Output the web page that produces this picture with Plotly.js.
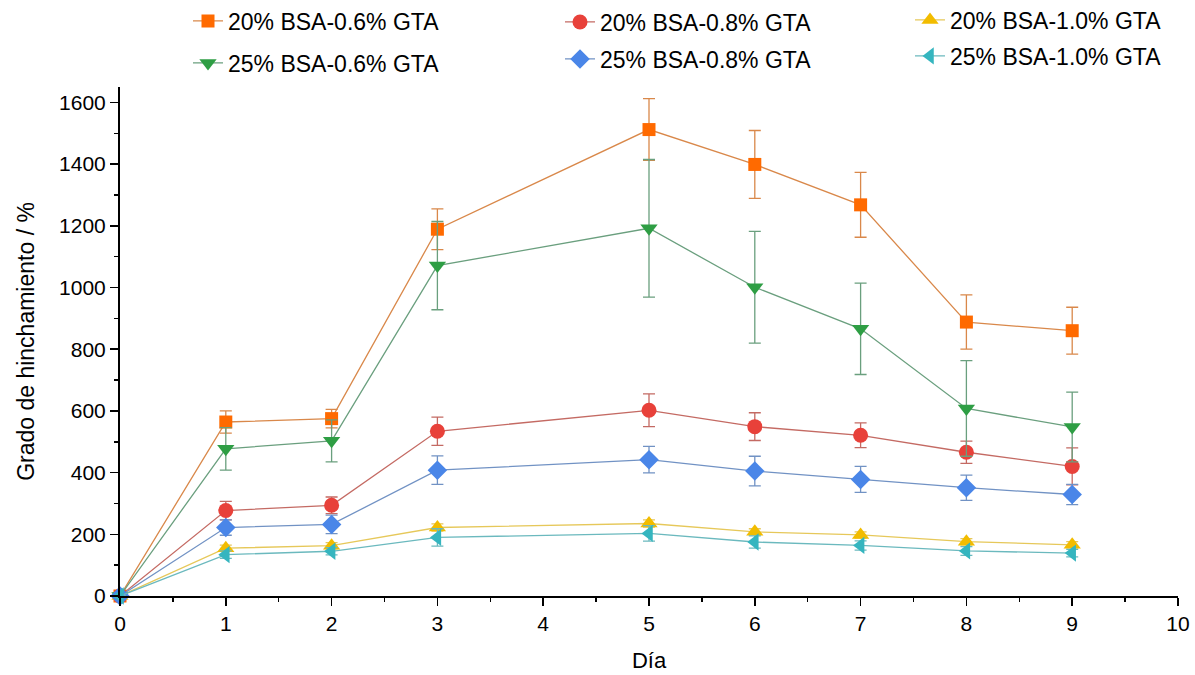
<!DOCTYPE html>
<html>
<head>
<meta charset="utf-8">
<script src="https://cdn.plot.ly/plotly-3.0.1.min.js"></script>
<style>html,body{margin:0;padding:0;background:#fff;}</style>
</head>
<body>
<div id="chart" style="width:1195px;height:675px;"></div>
<script>
const days = [0, 1, 2, 3, 5, 6, 7, 8, 9];

const names = ["20% BSA-0.6% GTA", "20% BSA-0.8% GTA", "20% BSA-1.0% GTA",
               "25% BSA-0.6% GTA", "25% BSA-0.8% GTA", "25% BSA-1.0% GTA"];

const bsa20_06 = [0, 564, 575, 1189, 1512, 1399, 1268, 888, 860];
const bsa20_06_err = [0, 36, 30, 66, 100, 110, 105, 88, 76];

const bsa20_08 = [0, 277, 294, 534, 602, 549, 521, 466, 420];
const bsa20_08_err = [0, 30, 27, 46, 53, 45, 40, 36, 60];

const bsa20_10 = [0, 155, 163, 222, 235, 208, 198, 176, 166];
const bsa20_10_err = [0, 10, 10, 12, 12, 10, 10, 10, 10];

const bsa25_06 = [0, 477, 503, 1071, 1192, 1001, 866, 608, 548];
const bsa25_06_err = [0, 69, 68, 143, 223, 181, 148, 155, 113];

const bsa25_08 = [0, 222, 232, 408, 442, 405, 378, 351, 329];
const bsa25_08_err = [0, 25, 30, 46, 43, 48, 42, 41, 33];

const bsa25_10 = [0, 134, 145, 190, 203, 175, 164, 146, 139];
const bsa25_10_err = [0, 12, 12, 28, 25, 20, 15, 14, 12];

// legend slot per series: [left px of the legend box, vertical centre px]
const series = [
  {y: bsa20_06, e: bsa20_06_err, sym: "square", mc: "#FF6A00", lc: "#D9884A", size: 13, pos: [188, 21]},
  {y: bsa20_08, e: bsa20_08_err, sym: "circle", mc: "#E8413A", lc: "#C46A63", size: 15, pos: [560, 22]},
  {y: bsa20_10, e: bsa20_10_err, sym: "triangle-up", mc: "#F2BC00", lc: "#E6C85A", size: 15, pos: [910, 20]},
  {y: bsa25_06, e: bsa25_06_err, sym: "triangle-down", mc: "#2E9E44", lc: "#6A9F7E", size: 15, pos: [188, 63]},
  {y: bsa25_08, e: bsa25_08_err, sym: "diamond", mc: "#4A86E8", lc: "#7192C4", size: 15, pos: [560, 59]},
  {y: bsa25_10, e: bsa25_10_err, sym: "triangle-left", mc: "#35B5BF", lc: "#6BB9BE", size: 15, pos: [910, 56]}
];

const legendIds = ["legend", "legend2", "legend3", "legend4", "legend5", "legend6"];

const traces = series.map((s, i) => ({
  x: days,
  y: s.y,
  name: names[i],
  legend: legendIds[i],
  type: "scatter",
  mode: "lines+markers",
  cliponaxis: false,
  line: {color: s.lc, width: 1.3},
  marker: {symbol: s.sym, color: s.mc, size: s.size, line: {width: 0}},
  error_y: {type: "data", array: s.e, visible: true, color: s.lc, thickness: 1.3, width: 6}
}));

const fontFam = "'Liberation Sans', Arial, sans-serif";

const layout = {
  width: 1195,
  height: 675,
  margin: {l: 120, r: 17, t: 87, b: 79, autoexpand: false},
  paper_bgcolor: "#fff",
  plot_bgcolor: "#fff",
  font: {family: fontFam, color: "#000", size: 21},
  showlegend: true,
  xaxis: {
    range: [0, 10],
    tickmode: "linear", tick0: 0, dtick: 1,
    ticks: "outside", ticklen: 8, tickwidth: 1.5, tickcolor: "#000",
    minor: {dtick: 0.5, ticks: "outside", ticklen: 4, tickwidth: 1.5, tickcolor: "#000", showgrid: false},
    showline: true, linecolor: "#000", linewidth: 2,
    showgrid: false, zeroline: false,
    tickfont: {size: 21},
    title: {text: "Día", font: {size: 22}, standoff: 18}
  },
  yaxis: {
    range: [0, 1650],
    tickmode: "linear", tick0: 0, dtick: 200,
    ticks: "outside", ticklen: 8, tickwidth: 1.5, tickcolor: "#000",
    minor: {dtick: 100, ticks: "outside", ticklen: 4, tickwidth: 1.5, tickcolor: "#000", showgrid: false},
    showline: true, linecolor: "#000", linewidth: 2,
    showgrid: false, zeroline: false,
    tickfont: {size: 21},
    title: {text: "Grado de hinchamiento / %", font: {size: 23}, standoff: 18}
  }
};

series.forEach((s, i) => {
  layout[legendIds[i]] = {
    orientation: "h",
    xref: "container", x: s.pos[0] / 1195, xanchor: "left",
    yref: "container", y: 1 - s.pos[1] / 675, yanchor: "middle",
    font: {family: fontFam, size: 23, color: "#000"},
    bgcolor: "rgba(0,0,0,0)",
    borderwidth: 0
  };
});

Plotly.newPlot("chart", traces, layout, {displayModeBar: false, staticPlot: true});
</script>
</body>
</html>
